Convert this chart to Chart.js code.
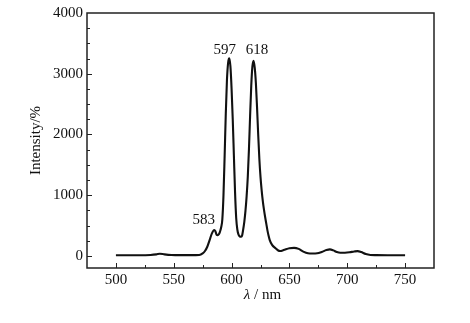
<!DOCTYPE html>
<html>
<head>
<meta charset="utf-8">
<script src="https://cdn.jsdelivr.net/npm/chart.js@4"></script>
<style>
  html, body { margin: 0; padding: 0; background: #fff; }
  #wrap { width: 470px; height: 323px; }
</style>
</head>
<body>
<div id="wrap"><canvas id="spectrum"></canvas></div>
<script>
// emission spectrum
const wavelength = [500, 510, 520, 530, 535, 538, 542, 548, 555, 565, 572, 575, 577, 579, 581, 583, 585, 586, 587, 588, 589, 590,
  591, 592, 593, 594, 595, 596, 597, 598, 599, 600, 601, 602, 603, 604, 605, 606, 607, 608, 609,
  610, 611, 612, 613, 614, 615, 616, 617, 618, 619, 620, 621, 622, 623, 624, 625, 626, 627, 628, 629,
  630, 631, 632, 633, 635, 638, 640, 642, 645, 650, 654, 658, 662, 666, 670, 674, 678, 682, 685, 688,
  691, 694, 698, 702, 706, 709, 712, 716, 720, 725, 735, 750];
const intensity = [10, 10, 10, 15, 25, 35, 25, 15, 12, 12, 15, 40, 80, 150, 260, 370, 425, 405, 350, 340, 355, 400,
  470, 600, 1000, 1650, 2350, 2900, 3180, 3255, 3120, 2750, 2250, 1650, 1050, 620, 430, 350, 320, 315, 330,
  430, 560, 740, 980, 1300, 1750, 2300, 2800, 3120, 3212, 3100, 2850, 2450, 2000, 1600, 1300, 1080, 900, 760, 640,
  530, 420, 330, 260, 180, 125, 92, 80, 95, 125, 132, 115, 70, 42, 38, 42, 65, 95, 106, 90,
  62, 50, 52, 60, 72, 78, 62, 30, 15, 12, 10, 10];

const xTickLabels = [500, 550, 600, 650, 700, 750];
const yTickLabels = [0, 1000, 2000, 3000, 4000];

const peakLabels = ['583', '597', '618'];
const peakLabelX = [576, 594, 622];
const peakLabelY = [585, 3395, 3385];

const serif = '"Liberation Serif", "DejaVu Serif", serif';

// ticks every 25 nm / 250 counts, labels only on the main ones
function stepTicks(from, to, step) {
  const out = [];
  for (let v = from; v <= to; v += step) out.push({ value: v });
  return out;
}

// box, inward ticks, peak labels and x title
const framePlugin = {
  id: 'framePlugin',
  afterDraw(chart) {
    const { ctx, chartArea: a, scales: { x, y } } = chart;
    ctx.save();
    ctx.strokeStyle = '#222';
    ctx.lineWidth = 1.5;
    ctx.strokeRect(a.left, a.top, a.right - a.left, a.bottom - a.top);

    ctx.lineWidth = 1;
    ctx.beginPath();
    x.ticks.forEach(t => {
      if (t.value <= x.min || t.value >= x.max) return;
      const px = Math.round(x.getPixelForValue(t.value)) + 0.5;
      const len = xTickLabels.includes(t.value) ? 5 : 3;
      ctx.moveTo(px, a.bottom);
      ctx.lineTo(px, a.bottom - len);
    });
    y.ticks.forEach(t => {
      if (t.value < 0 || t.value >= y.max) return;
      const py = Math.round(y.getPixelForValue(t.value)) + 0.5;
      const len = yTickLabels.includes(t.value) ? 5 : 3;
      ctx.moveTo(a.left, py);
      ctx.lineTo(a.left + len, py);
    });
    ctx.stroke();

    ctx.fillStyle = '#111';
    ctx.font = '15px ' + serif;
    ctx.textAlign = 'center';
    ctx.textBaseline = 'middle';
    peakLabels.forEach((lab, i) => {
      ctx.fillText(lab, x.getPixelForValue(peakLabelX[i]), y.getPixelForValue(peakLabelY[i]));
    });

    // x title with italic lambda
    const cx = (a.left + a.right) / 2 + 2;
    const ty = 295;
    ctx.font = 'italic 15px ' + serif;
    const w1 = ctx.measureText('λ').width;
    ctx.font = '15px ' + serif;
    const w2 = ctx.measureText(' / nm').width;
    const sx = cx - (w1 + w2) / 2;
    ctx.textAlign = 'left';
    ctx.font = 'italic 15px ' + serif;
    ctx.fillText('λ', sx, ty);
    ctx.font = '15px ' + serif;
    ctx.fillText(' / nm', sx + w1, ty);
    ctx.restore();
  }
};

new Chart(document.getElementById('spectrum'), {
  type: 'line',
  data: {
    datasets: [{
      data: wavelength.map((w, i) => ({ x: w, y: intensity[i] })),
      borderColor: '#111',
      borderWidth: 2.1,
      pointRadius: 0,
      fill: false,
      cubicInterpolationMode: 'monotone'
    }]
  },
  options: {
    responsive: true,
    maintainAspectRatio: false,
    animation: false,
    layout: { padding: { left: 20, top: 13, right: 36, bottom: 20 } },
    plugins: { legend: { display: false }, tooltip: { enabled: false } },
    scales: {
      x: {
        type: 'linear',
        min: 475,
        max: 775,
        grid: { display: false, drawTicks: false, tickLength: 0 },
        border: { display: false },
        afterFit: s => { s.height = 35; },
        afterBuildTicks: s => { s.ticks = stepTicks(475, 775, 25); },
        ticks: {
          autoSkip: false,
          maxRotation: 0,
          padding: 3,
          color: '#111',
          font: { family: serif, size: 15 },
          callback: v => xTickLabels.includes(v) ? String(v) : ''
        }
      },
      y: {
        min: -200,
        max: 4000,
        grid: { display: false, drawTicks: false, tickLength: 0 },
        border: { display: false },
        afterFit: s => { s.width = 67; },
        afterBuildTicks: s => { s.ticks = stepTicks(0, 4000, 250); },
        title: {
          display: true,
          text: 'Intensity/%',
          color: '#111',
          font: { family: serif, size: 15 },
          padding: { top: 7, bottom: 0 }
        },
        ticks: {
          autoSkip: false,
          padding: 4,
          color: '#111',
          font: { family: serif, size: 15 },
          callback: v => yTickLabels.includes(v) ? String(v) : ''
        }
      }
    }
  },
  plugins: [framePlugin]
});
</script>
</body>
</html>
